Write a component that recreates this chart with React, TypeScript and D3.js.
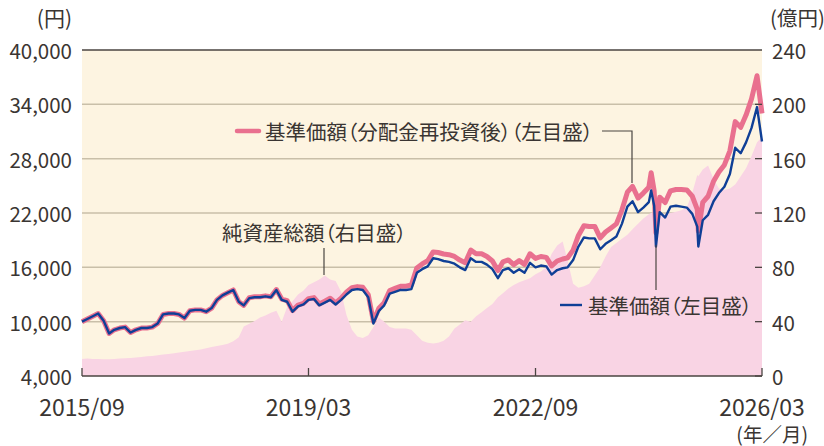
import React from "react";
import * as d3 from "d3";

// ---- data ----
const startMonth = "2015-09";
const navMonthly = [
  10000, 10300, 10600, 10900, 10100, 8700, 9100, 9300, 9400, 8800, 9100, 9300,
  9300, 9400, 9800, 10800, 10900, 10900, 10800, 10400, 11200, 11300, 11300, 11100,
  11500, 12400, 12900, 13200, 13500, 12200, 11800, 12600, 12700, 12700, 12800, 12700,
  13500, 12400, 12200, 11100, 11700, 11900, 12400, 12500, 11800, 12100, 12400, 11900,
  12400, 13000, 13500, 13600, 13500, 12700, 9800, 11200, 11800, 13100, 13300, 13500,
  13500, 13600, 15400, 15800, 16100, 17000, 16900, 16700, 16600, 16400, 16000, 15700,
  17000, 16600, 16600, 16300, 15800, 14800, 15700, 15900, 15400, 15800, 15400, 16500,
  16000, 16200, 16100, 15200, 15700, 15900, 16000, 16800, 18300, 19300, 19200, 19200,
  18000, 18600, 19000, 19400, 20800, 22700, 23300, 22100, 22600, 23200, 22800, 22100,
  21500, 22700, 22800, 22700, 22600, 21900, 20500, 21200, 21800, 23300, 24200, 24900,
  26300, 29200, 28600, 29800, 31400, 33700, 29900,
];
const navReinvMonthly = [
  10000, 10300, 10600, 10900, 10100, 8700, 9100, 9300, 9400, 8800, 9100, 9300,
  9300, 9400, 9800, 10800, 10900, 10900, 10800, 10400, 11200, 11300, 11300, 11100,
  11500, 12400, 12900, 13200, 13500, 12200, 11800, 12650, 12750, 12750, 12850, 12750,
  13550, 12500, 12320, 11220, 11830, 12030, 12540, 12660, 11960, 12270, 12580, 12080,
  12600, 13250, 13760, 13870, 13790, 12980, 10030, 11480, 12100, 13440, 13670, 13900,
  13920, 14050, 15940, 16380, 16730, 17700, 17640, 17470, 17400, 17200, 16800, 16500,
  17900, 17500, 17500, 17200, 16700, 15650, 16600, 16820, 16300, 16740, 16330, 17500,
  16980, 17200, 17100, 16150, 16700, 16920, 17050, 17900, 19520, 20600, 20500, 20520,
  19250, 19900, 20350, 20800, 22320, 24300, 24950, 23650, 24200, 24850, 24450, 23750,
  23150, 24450, 24600, 24600, 24550, 23850, 22390, 23170, 23850, 25510, 26520, 27310,
  28870, 32090, 31460, 32810, 34600, 37160, 33000,
];
const assetsMonthly = [
  12.5, 12.8, 12.5, 12.6, 12.4, 12.3, 12.6, 12.8, 13.0, 13.3, 13.6, 14.0,
  14.5, 14.8, 15.2, 15.8, 16.2, 16.8, 17.3, 17.8, 18.4, 18.9, 19.6, 20.5,
  21.4, 22.0, 22.8, 23.8, 25.5, 28.5, 36.5, 38.5, 40.5, 43, 44.5, 46.5,
  48, 40, 51, 55, 60, 63, 67, 69, 71, 74, 71, 70,
  62, 45, 34, 29, 28, 30, 36, 43, 40, 36, 35, 35,
  35, 34, 30, 26, 24.5, 24, 24.5, 26, 29, 35, 38, 41,
  40, 44, 47, 50, 53, 58, 61, 64.5, 67, 69, 70.5, 72,
  75, 77, 80, 90, 96, 99, 85, 68, 65, 66, 68, 74,
  80, 88, 95, 98, 101, 104, 108, 112, 116, 119, 121, 118,
  119, 120, 121, 122, 124, 135, 148, 152, 155, 145, 138, 137,
  138, 141, 147, 153, 162, 172, 176,
];
// a few extra daily points (sharp peaks / drops)
const extraDates = ["2024-06-14", "2024-07-11", "2025-03-07"];
const extraNav = [24500, 18300, 18300];
const extraNavReinv = [26450, 19800, 20000];
const extraAssets = [120, 119, 147];

const leftTicks = [4000, 10000, 16000, 22000, 28000, 34000, 40000];
const rightTicks = [0, 40, 80, 120, 160, 200, 240];
const xTickLabels = ["2015/09", "2019/03", "2022/09", "2026/03"];

const labelNavReinv = "基準価額（分配金再投資後）（左目盛）";
const labelNav = "基準価額（左目盛）";
const labelAssets = "純資産総額（右目盛）";

// ---- styling ----
const W = 824;
const H = 446;
const M = { left: 82, right: 762, top: 50, bottom: 376 };
const FONT = "'Noto Sans CJK JP', 'Noto Sans', sans-serif";
const TXT = "#3a3532";
const AXIS = "#4a4541";
const PALT = { fontFeatureSettings: '"palt"' } as React.CSSProperties;

type Pt = { date: Date; nav: number; reinv: number; assets: number };

export default function App() {
  const parseM = d3.timeParse("%Y-%m");
  const parseD = d3.timeParse("%Y-%m-%d");
  const start = parseM(startMonth) as Date;
  const pts: Pt[] = navMonthly.map((v, i) => ({
    date: d3.timeMonth.offset(start, i),
    nav: v,
    reinv: navReinvMonthly[i],
    assets: assetsMonthly[i],
  }));
  extraDates.forEach((d, i) =>
    pts.push({ date: parseD(d) as Date, nav: extraNav[i], reinv: extraNavReinv[i], assets: extraAssets[i] })
  );
  pts.sort((a, b) => +a.date - +b.date);

  const x = d3
    .scaleTime()
    .domain([start, d3.timeMonth.offset(start, navMonthly.length - 1)])
    .range([M.left, M.right]);
  const yL = d3.scaleLinear().domain([4000, 40000]).range([M.bottom, M.top]);
  const yR = d3.scaleLinear().domain([0, 240]).range([M.bottom, M.top]);

  const area = d3
    .area<Pt>()
    .x((d) => x(d.date))
    .y0(yR(0))
    .y1((d) => yR(d.assets));
  const lineReinv = d3
    .line<Pt>()
    .x((d) => x(d.date))
    .y((d) => yL(d.reinv));
  const lineNav = d3
    .line<Pt>()
    .x((d) => x(d.date))
    .y((d) => yL(d.nav));

  const parseTick = d3.timeParse("%Y/%m");
  const fmt = d3.format(",");

  return (
    <svg
      width={W}
      height={H}
      style={{ position: "absolute", left: 0, top: 0, background: "#fff" }}
      fontFamily={FONT}
    >
      {/* plot background */}
      <rect x={M.left} y={M.top} width={M.right - M.left} height={M.bottom - M.top} fill="#fdf4e1" />
      {/* gridlines */}
      {leftTicks.slice(1, -1).map((t) => (
        <line key={t} x1={M.left} x2={M.right} y1={yL(t)} y2={yL(t)} stroke="#c9bfa9" strokeWidth={1.5} />
      ))}
      {/* net assets area */}
      <path d={area(pts) || ""} fill="#f9d4e4" />
      {/* lines */}
      <path d={lineReinv(pts) || ""} fill="none" stroke="#e9708f" strokeWidth={5} strokeLinejoin="round" />
      <path d={lineNav(pts) || ""} fill="none" stroke="#0f3f96" strokeWidth={2.4} strokeLinejoin="round" />

      {/* top and bottom border */}
      <line x1={M.left} x2={M.right} y1={M.top} y2={M.top} stroke={AXIS} strokeWidth={1.6} />
      <line x1={M.left} x2={M.right} y1={M.bottom} y2={M.bottom} stroke={AXIS} strokeWidth={1.6} />

      {/* x ticks */}
      {xTickLabels.map((t) => {
        const xx = x(parseTick(t) as Date);
        return (
          <g key={t}>
            <line x1={xx} x2={xx} y1={M.bottom} y2={M.bottom - 8} stroke={AXIS} strokeWidth={1.3} />
            <text x={xx} y={406} textAnchor="middle" dominantBaseline="central" fontSize={23} fill={TXT}>
              {t}
            </text>
          </g>
        );
      })}
      <text x={808} y={433} textAnchor="end" dominantBaseline="central" fontSize={19.5} fill={TXT}>
        (年／月)
      </text>

      {/* left axis labels */}
      {leftTicks.map((t) => (
        <text key={t} x={72} y={yL(t)} textAnchor="end" dominantBaseline="central" fontSize={20.5} fill={TXT}>
          {fmt(t)}
        </text>
      ))}
      <text x={72} y={17} textAnchor="end" dominantBaseline="central" fontSize={21} fill={TXT}>
        (円)
      </text>

      {/* right axis */}
      {rightTicks.map((t) => (
        <g key={t}>
          {t < 240 && (
            <line x1={M.right - 7} x2={M.right} y1={yR(t)} y2={yR(t)} stroke={AXIS} strokeWidth={1.3} />
          )}
          <text x={772} y={yR(t)} textAnchor="start" dominantBaseline="central" fontSize={20.5} fill={TXT}>
            {t}
          </text>
        </g>
      ))}
      <text x={770} y={17} textAnchor="start" dominantBaseline="central" fontSize={20.5} fill={TXT}>
        (億円)
      </text>

      {/* annotation: reinvested NAV */}
      <line x1={237} x2={259} y1={131} y2={131} stroke="#e9708f" strokeWidth={4.5} strokeLinecap="round" />
      <text x={265} y={131} dominantBaseline="central" fontSize={20.5} fill={TXT} style={PALT}>
        {labelNavReinv}
      </text>
      <polyline points="602,131 632,131 632,183" fill="none" stroke={AXIS} strokeWidth={1.2} />

      {/* annotation: net assets */}
      <text x={222} y={232} dominantBaseline="central" fontSize={20.5} fill={TXT} style={PALT}>
        {labelAssets}
      </text>
      <line x1={324} x2={324} y1={248} y2={275} stroke={AXIS} strokeWidth={1.2} />

      {/* annotation: NAV */}
      <line x1={560} x2={582} y1={305} y2={305} stroke="#0f3f96" strokeWidth={2.4} />
      <text x={588} y={305} dominantBaseline="central" fontSize={20.5} fill={TXT} style={PALT}>
        {labelNav}
      </text>
      <line x1={656} x2={656} y1={245} y2={290} stroke={AXIS} strokeWidth={1.2} />
    </svg>
  );
}
